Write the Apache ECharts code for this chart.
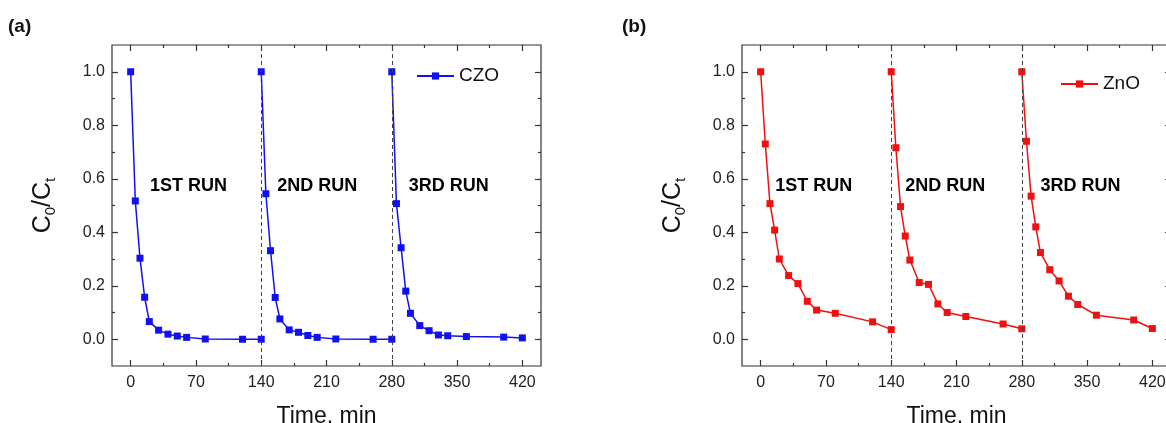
<!DOCTYPE html>
<html>
<head>
<meta charset="utf-8">
<script src="https://cdn.jsdelivr.net/npm/echarts@6/dist/echarts.min.js"></script>
<style>
html,body{margin:0;padding:0;background:#fff;}
#c{width:1166px;height:423px;}
</style>
</head>
<body>
<div id="c"></div>
<script>
// ---- data ----
const runTimes1 = [0, 5, 10, 15, 20, 30, 40, 50, 60, 80, 120, 140];
const runTimes2 = [140, 145, 150, 155, 160, 170, 180, 190, 200, 220, 260, 280];
const runTimes3 = [280, 285, 290, 295, 300, 310, 320, 330, 340, 360, 400, 420];

const czoRun1 = [1.0, 0.517, 0.303, 0.157, 0.066, 0.034, 0.019, 0.012, 0.007, 0.001, 0.0, 0.0];
const czoRun2 = [1.0, 0.544, 0.331, 0.156, 0.076, 0.035, 0.026, 0.014, 0.007, 0.001, 0.0, 0.0];
const czoRun3 = [1.0, 0.507, 0.342, 0.180, 0.097, 0.051, 0.032, 0.016, 0.013, 0.010, 0.008, 0.005];

const znoRun1 = [1.0, 0.730, 0.507, 0.408, 0.300, 0.238, 0.208, 0.142, 0.109, 0.097, 0.065, 0.036];
const znoRun2 = [1.0, 0.716, 0.496, 0.386, 0.296, 0.212, 0.205, 0.132, 0.100, 0.085, 0.057, 0.039];
const znoRun3 = [1.0, 0.740, 0.535, 0.420, 0.324, 0.260, 0.218, 0.161, 0.130, 0.090, 0.072, 0.040];

const xTickLabels = [0, 70, 140, 210, 280, 350, 420];
const xMinorTicks = [35, 105, 175, 245, 315, 385];
const yTickLabels = [0.0, 0.2, 0.4, 0.6, 0.8, 1.0];
const yMinorTicks = [0.1, 0.3, 0.5, 0.7, 0.9];
const runBoundaries = [140, 280];
const runLabels = ['1ST RUN', '2ND RUN', '3RD RUN'];
const runLabelTimesA = [62, 200, 341];
const runLabelTimesB = [57, 198, 343];
const runLabelLevel = 0.572;

// ---- chart ----
const FONT = 'Liberation Sans, Arial, sans-serif';
const AX = '#333';
const xMin = -20, xMax = 440, yMin = -0.1, yMax = 1.1;

function pairs(ts, vs) { return ts.map((t, i) => [t, vs[i]]); }

function xAxesFor(g) {
  const base = {
    gridIndex: g, type: 'value', min: xMin, max: xMax,
    axisLine: { show: false, onZero: false }, splitLine: { show: false }
  };
  const lbl = {
    customValues: xTickLabels, margin: 9, color: '#222', fontSize: 16, fontFamily: FONT
  };
  return [
    Object.assign({}, base, { position: 'bottom',
      axisTick: { show: true, inside: true, length: 6, customValues: xTickLabels, lineStyle: { color: AX, width: 1.2 } },
      axisLabel: lbl,
      name: 'Time, min', nameLocation: 'middle', nameGap: 39,
      nameTextStyle: { fontSize: 23, color: '#111', fontFamily: FONT } }),
    Object.assign({}, base, { position: 'bottom',
      axisTick: { show: true, inside: true, length: 3, customValues: xMinorTicks, lineStyle: { color: AX, width: 1.2 } },
      axisLabel: { show: false } }),
    Object.assign({}, base, { position: 'top',
      axisTick: { show: true, inside: true, length: 6, customValues: xTickLabels, lineStyle: { color: AX, width: 1.2 } },
      axisLabel: { show: false } }),
    Object.assign({}, base, { position: 'top',
      axisTick: { show: true, inside: true, length: 3, customValues: xMinorTicks, lineStyle: { color: AX, width: 1.2 } },
      axisLabel: { show: false } })
  ];
}

function yAxesFor(g) {
  const base = {
    gridIndex: g, type: 'value', min: yMin, max: yMax,
    axisLine: { show: false, onZero: false }, splitLine: { show: false }
  };
  return [
    Object.assign({}, base, { position: 'left',
      axisTick: { show: true, inside: true, length: 6, customValues: yTickLabels, lineStyle: { color: AX, width: 1.2 } },
      axisLabel: { customValues: yTickLabels, margin: 7, color: '#222', fontSize: 16, fontFamily: FONT,
        formatter: v => Number(v).toFixed(1) },
      name: '{c|C}{s|0}{c|/C}{s|t}', nameLocation: 'middle', nameGap: 54,
      nameTextStyle: { color: '#111', fontFamily: FONT,
        rich: {
          c: { fontSize: 25, fontFamily: FONT, color: '#111', lineHeight: 30, verticalAlign: 'middle' },
          s: { fontSize: 15, fontFamily: FONT, color: '#111', lineHeight: 30, verticalAlign: 'bottom' }
        } } }),
    Object.assign({}, base, { position: 'left',
      axisTick: { show: true, inside: true, length: 3, customValues: yMinorTicks, lineStyle: { color: AX, width: 1.2 } },
      axisLabel: { show: false } }),
    Object.assign({}, base, { position: 'right',
      axisTick: { show: true, inside: true, length: 6, customValues: yTickLabels, lineStyle: { color: AX, width: 1.2 } },
      axisLabel: { show: false } }),
    Object.assign({}, base, { position: 'right',
      axisTick: { show: true, inside: true, length: 3, customValues: yMinorTicks, lineStyle: { color: AX, width: 1.2 } },
      axisLabel: { show: false } })
  ];
}

function runSeries(name, color, axisIdx, runs, withMark) {
  return runs.map((r, i) => {
    const s = {
      name: name, type: 'line', xAxisIndex: axisIdx, yAxisIndex: axisIdx,
      data: pairs(r[0], r[1]),
      symbol: 'rect', symbolSize: 7, showSymbol: true,
      lineStyle: { color: color, width: 1.5 },
      itemStyle: { color: color },
      z: 3
    };
    if (withMark && i === 0) {
      s.markLine = {
        silent: true, symbol: ['none', 'none'], animation: false,
        label: { show: false },
        lineStyle: { color: '#444', type: [4, 3], width: 1 },
        data: runBoundaries.map(b => ({ xAxis: b }))
      };
    }
    return s;
  });
}

function labelSeries(axisIdx, times) {
  return {
    type: 'scatter', xAxisIndex: axisIdx, yAxisIndex: axisIdx, silent: true,
    symbolSize: 0, z: 4,
    itemStyle: { opacity: 1 },
    data: times.map((t, i) => ({ value: [t, runLabelLevel], name: runLabels[i] })),
    label: { show: true, position: 'inside', formatter: p => p.name, opacity: 1,
      fontSize: 18, fontWeight: 'bold', color: '#000', fontFamily: FONT }
  };
}

const chart = echarts.init(document.getElementById('c'), null, { renderer: 'canvas' });
const gridBase = { top: 45, width: 429, height: 321, show: true, borderColor: AX, borderWidth: 1.2,
  backgroundColor: 'transparent', outerBoundsMode: 'none', containLabel: false };
const option = {
  animation: false,
  backgroundColor: '#fff',
  title: [
    { text: '(a)', left: 8, top: 17, padding: 0, textStyle: { fontSize: 19, fontWeight: 'bold', color: '#111', fontFamily: FONT } },
    { text: '(b)', left: 622, top: 17, padding: 0, textStyle: { fontSize: 19, fontWeight: 'bold', color: '#111', fontFamily: FONT } }
  ],
  grid: [
    Object.assign({ left: 112 }, gridBase),
    Object.assign({ left: 742 }, gridBase)
  ],
  legend: [
    { data: ['CZO'], left: 416, top: 66, padding: 0, itemWidth: 37, itemHeight: 9, itemGap: 0,
      textStyle: { fontSize: 19, color: '#111', fontFamily: FONT, lineHeight: 20 } },
    { data: ['ZnO'], left: 1060, top: 74, padding: 0, itemWidth: 37, itemHeight: 9, itemGap: 0,
      textStyle: { fontSize: 19, color: '#111', fontFamily: FONT, lineHeight: 20 } }
  ],
  xAxis: xAxesFor(0).concat(xAxesFor(1)),
  yAxis: yAxesFor(0).concat(yAxesFor(1)),
  series: []
    .concat(runSeries('CZO', '#1010f0', 0, [[runTimes1, czoRun1], [runTimes2, czoRun2], [runTimes3, czoRun3]], true))
    .concat(runSeries('ZnO', '#f01010', 4, [[runTimes1, znoRun1], [runTimes2, znoRun2], [runTimes3, znoRun3]], true))
    .concat([labelSeries(0, runLabelTimesA), labelSeries(4, runLabelTimesB)])
};
chart.setOption(option);
</script>
</body>
</html>
